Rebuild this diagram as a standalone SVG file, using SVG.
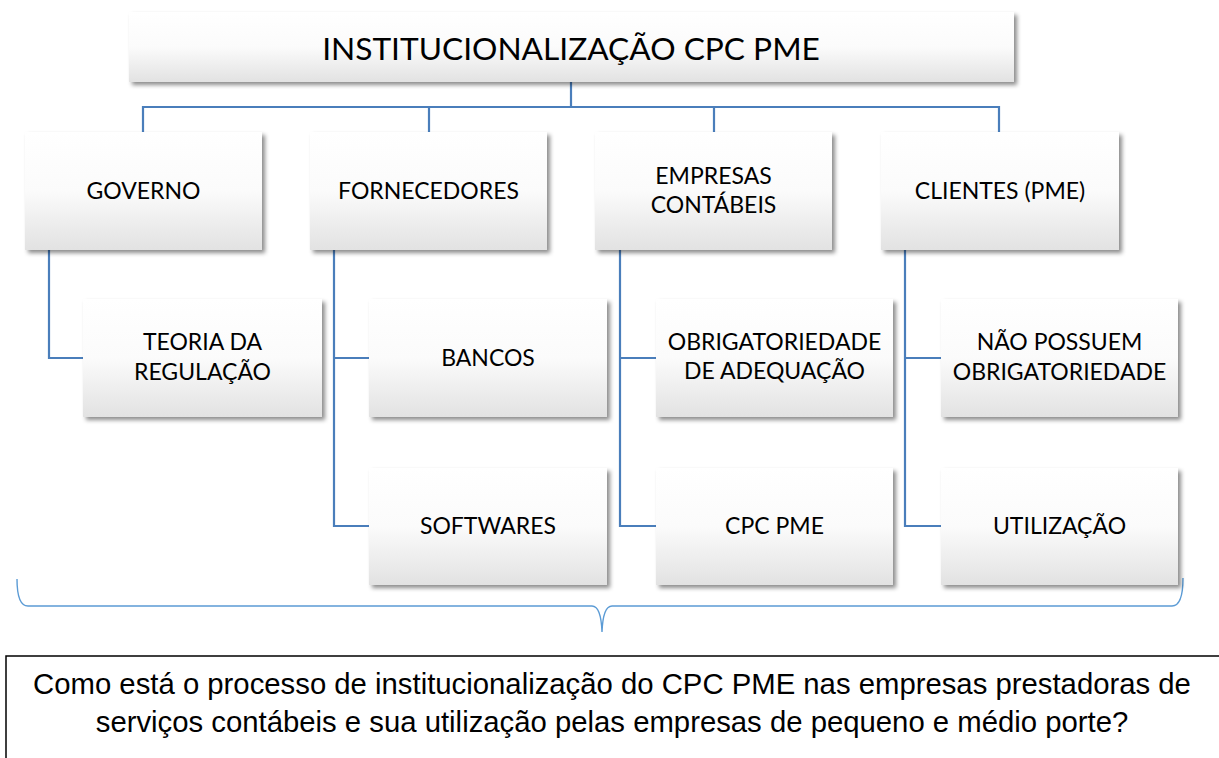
<svg xmlns="http://www.w3.org/2000/svg" width="1219" height="758" viewBox="0 0 1219 758">
<style>
.box{fill:url(#g);filter:url(#sh);}
.lbl{font-family:Lato,"Open Sans",sans-serif;font-size:23px;fill:#000;text-anchor:middle;}
.title{font-family:Lato,"Open Sans",sans-serif;font-size:31.7px;fill:#000;text-anchor:middle;}
.con{fill:none;stroke:#4a7ebb;stroke-width:2.2;}
.brace{fill:none;stroke:#5b9bd5;stroke-width:1.4;}
.q{font-family:"Liberation Sans",Arial,sans-serif;font-size:29.3px;fill:#000;text-anchor:middle;}
</style>
<defs>
<linearGradient id="g" x1="0" y1="0" x2="0" y2="1">
<stop offset="0" stop-color="#ffffff"/>
<stop offset="0.5" stop-color="#fbfbfb"/>
<stop offset="1" stop-color="#e2e2e2"/>
</linearGradient>
<filter id="sh" x="-10%" y="-10%" width="130%" height="140%">
<feDropShadow dx="3" dy="3" stdDeviation="2.2" flood-color="#000" flood-opacity="0.45"/>
</filter>
</defs>
<rect width="1219" height="758" fill="#fff"/>
<g id="connectors">
<path class="con" d="M571,82 V107 M143,132 V107 H999 V132 M429,107 V132 M714,107 V132"/>
<path class="con" d="M49,250 V358 H83"/>
<path class="con" d="M334,250 V526 H369 M334,358 H369"/>
<path class="con" d="M620,250 V526 H656 M620,358 H656"/>
<path class="con" d="M905,250 V526 H941 M905,358 H941"/>
<path class="brace" d="M17,579 Q17,606 28,606 L592,606 Q601,606 602,632 Q603,606 612,606 L1172,606 Q1183,606 1183,578"/>
</g>
<g id="n-title">
<rect class="box" x="129" y="12" width="885" height="70"/>
<text class="title" x="571" y="60">INSTITUCIONALIZAÇÃO CPC PME</text>
</g>
<g id="n-governo">
<rect class="box" x="25" y="132" width="237" height="118"/>
<text class="lbl" x="143.5" y="199">GOVERNO</text>
</g>
<g id="n-fornecedores">
<rect class="box" x="310" y="132" width="237" height="118"/>
<text class="lbl" x="428.5" y="199">FORNECEDORES</text>
</g>
<g id="n-empresas">
<rect class="box" x="595" y="132" width="237" height="118"/>
<text class="lbl" x="713.5" y="184">EMPRESAS</text>
<text class="lbl" x="713.5" y="213">CONTÁBEIS</text>
</g>
<g id="n-clientes">
<rect class="box" x="881" y="132" width="238" height="118"/>
<text class="lbl" x="1000" y="199">CLIENTES (PME)</text>
</g>
<g id="n-teoria">
<rect class="box" x="83" y="299" width="239" height="118"/>
<text class="lbl" x="202.5" y="350">TEORIA DA</text>
<text class="lbl" x="202.5" y="380">REGULAÇÃO</text>
</g>
<g id="n-bancos">
<rect class="box" x="369" y="299" width="238" height="118"/>
<text class="lbl" x="488" y="366">BANCOS</text>
</g>
<g id="n-softwares">
<rect class="box" x="369" y="468" width="238" height="117"/>
<text class="lbl" x="488" y="534">SOFTWARES</text>
</g>
<g id="n-obrig">
<rect class="box" x="656" y="299" width="237" height="118"/>
<text class="lbl" x="774.5" y="350">OBRIGATORIEDADE</text>
<text class="lbl" x="774.5" y="379">DE ADEQUAÇÃO</text>
</g>
<g id="n-cpcpme">
<rect class="box" x="656" y="468" width="237" height="117"/>
<text class="lbl" x="774.5" y="534">CPC PME</text>
</g>
<g id="n-naopossuem">
<rect class="box" x="941" y="299" width="237" height="118"/>
<text class="lbl" x="1059.5" y="350">NÃO POSSUEM</text>
<text class="lbl" x="1059.5" y="380">OBRIGATORIEDADE</text>
</g>
<g id="n-utilizacao">
<rect class="box" x="941" y="468" width="237" height="117"/>
<text class="lbl" x="1059.5" y="534">UTILIZAÇÃO</text>
</g>
<g id="n-question">
<rect x="6" y="656" width="1300" height="200" fill="none" stroke="#000" stroke-width="1.5"/>
<text class="q" x="612" y="694">Como está o processo de institucionalização do CPC PME nas empresas prestadoras de</text>
<text class="q" x="612" y="732">serviços contábeis e sua utilização pelas empresas de pequeno e médio porte?</text>
</g>
</svg>
